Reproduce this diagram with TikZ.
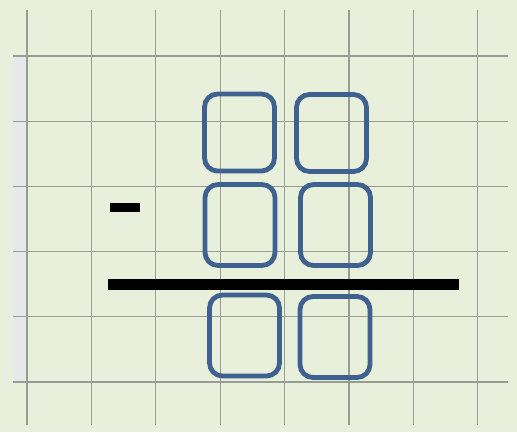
\documentclass[tikz,border=0pt]{standalone}
\usetikzlibrary{positioning}
\usepackage{xcolor}
\definecolor{paper}{HTML}{E8F0DC}
\definecolor{gridline}{HTML}{989C95}
\definecolor{margin}{HTML}{E6E8EC}
\definecolor{boxblue}{HTML}{3E6190}

\begin{document}
\begin{tikzpicture}[
          x=1pt, y=-1pt,
          digit/.style={rectangle, draw=boxblue, line width=4.8pt, rounded corners=13pt,
                        minimum width=70pt, minimum height=77pt, inner sep=0pt},
          gridrule/.style={draw=gridline, line width=1.1pt},
        ]
        % paper
        \fill[paper] (0,0) rectangle (517,432);
        \useasboundingbox (0,0) rectangle (517,432);
        \fill[margin] (13,57) rectangle (25,382);
        \foreach \i in {0,...,7}
          \draw[gridrule] (27+64.4*\i,10) -- (27+64.4*\i,425);
        \foreach \j in {0,...,5}
          \draw[gridrule] (13,56+65.2*\j) -- (508,56+65.2*\j);
        % digit boxes
        \node[digit] (tensA) at (239.5,132.5) {};
        \node[digit] (onesA) at (331.5,133)   {};
        \node[digit, minimum height=81pt] (tensB) at (240,225)   {};
        \node[digit, minimum height=81pt] (onesB) at (335.5,225) {};
        \node[digit, minimum height=81pt] (tensC) at (244.5,335.5) {};
        \node[digit, minimum height=81pt] (onesC) at (335,337)   {};
        % minus sign and result bar
        \node[fill=black, minimum width=30pt, minimum height=9pt, inner sep=0pt] (minus) at (125,207.5) {};
        \coordinate (barL) at (108,284.5);
        \coordinate (barR) at (459,284.5);
        \draw[line width=11pt] (barL) -- (barR);
      \end{tikzpicture}
\end{document}
